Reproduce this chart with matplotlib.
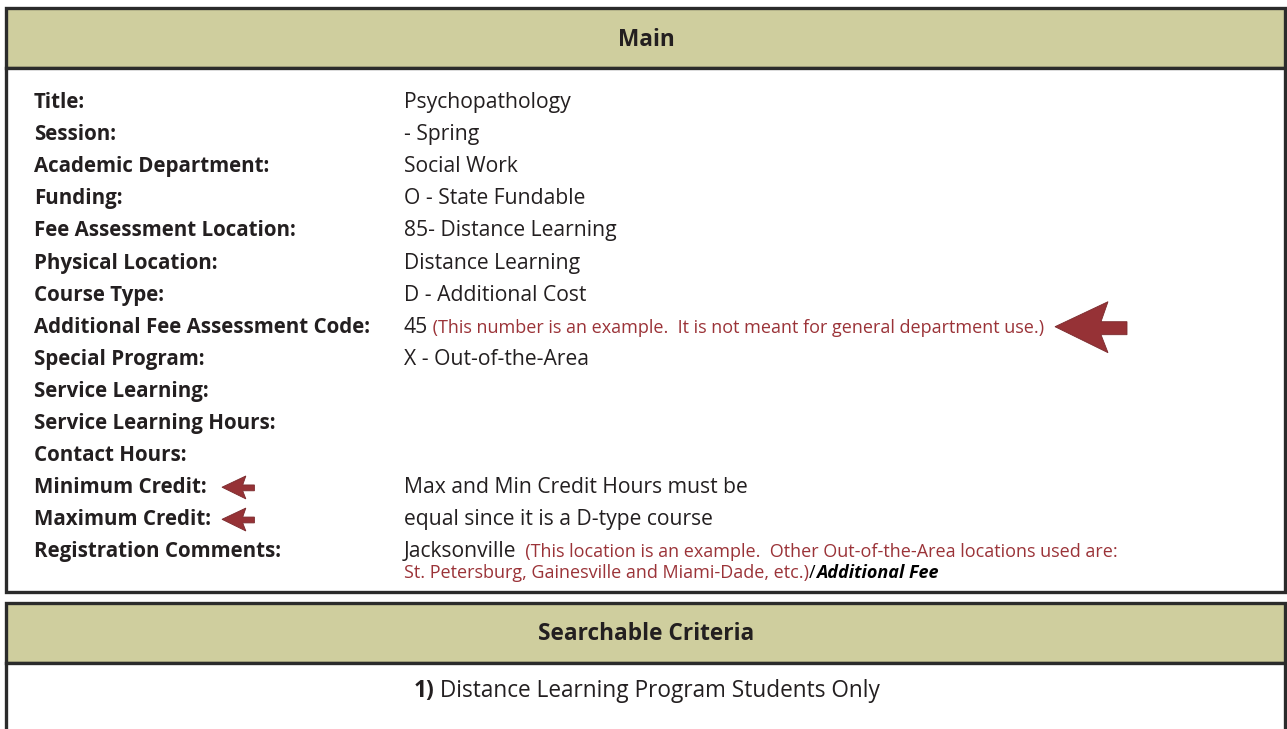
import matplotlib.pyplot as plt
from matplotlib.patches import Rectangle, Polygon

# form content
labels = ["Title:", "Session:", "Academic Department:", "Funding:",
          "Fee Assessment Location:", "Physical Location:", "Course Type:",
          "Additional Fee Assessment Code:", "Special Program:",
          "Service Learning:", "Service Learning Hours:", "Contact Hours:",
          "Minimum Credit:", "Maximum Credit:", "Registration Comments:"]
values = ["Psychopathology", "- Spring", "Social Work", "O - State Fundable",
          "85- Distance Learning", "Distance Learning", "D - Additional Cost",
          "45", "X - Out-of-the-Area", "", "", "",
          "Max and Min Credit Hours must be", "equal since it is a D-type course",
          "Jacksonville"]
fee_note = " (This number is an example.  It is not meant for general department use.)"
loc_note_1 = "  (This location is an example.  Other Out-of-the-Area locations used are:"
loc_note_2 = "St. Petersburg, Gainesville and Miami-Dade, etc.)"
loc_tail = "Additional Fee"
criteria = "Distance Learning Program Students Only"

W, H = 1287, 729
HEADER = "#CFCE9E"
EDGE = "#2b2b2b"
RED = "#9B3338"
INK = "#231f20"
FONT = "Open Sans"
LFS = 14.8   # bold labels
VFS = 15.2   # values
NFS = 13.0   # red notes
HFS = 16.3   # headers

plt.rcParams["font.family"] = FONT
fig = plt.figure(figsize=(W / 100, H / 100), dpi=100)
ax = fig.add_axes([0, 0, 1, 1])
ax.set_xlim(0, W)
ax.set_ylim(H, 0)
ax.axis("off")

# boxes
ax.add_patch(Rectangle((6, 8), 1279, 60, facecolor=HEADER, edgecolor=EDGE, lw=2.4))
ax.add_patch(Rectangle((6, 68), 1279, 524, facecolor="white", edgecolor=EDGE, lw=2.4))
ax.add_patch(Rectangle((6, 603), 1279, 60, facecolor=HEADER, edgecolor=EDGE, lw=2.4))
ax.add_patch(Rectangle((6, 663), 1279, 80, facecolor="white", edgecolor=EDGE, lw=2.4))

ax.text(646, 40, "Main", ha="center", va="center", fontsize=HFS, fontweight="bold", color=INK)
ax.text(646, 634, "Searchable Criteria", ha="center", va="center", fontsize=HFS,
        fontweight="bold", color=INK)

fig.canvas.draw()
renderer = fig.canvas.get_renderer()


def run(x, y, parts):
    # draw text pieces one after another on a line
    for s, kw in parts:
        opts = dict(va="baseline", ha="left", fontsize=VFS)
        opts.update(kw)
        t = ax.text(x, y, s, **opts)
        x += t.get_window_extent(renderer=renderer).width
    return x


row_y = [101 + i * 32.1 for i in range(len(labels))]
BASE = 7
for i, (lab, val, y) in enumerate(zip(labels, values, row_y)):
    ax.text(34, y + BASE, lab, va="baseline", ha="left", fontsize=LFS, fontweight="bold", color=INK)
    if val and i not in (7, 14):
        ax.text(404, y + BASE, val, va="baseline", ha="left", fontsize=VFS, color=INK)

run(404, row_y[7] + BASE, [(values[7], dict(color=INK)), (fee_note, dict(color=RED, fontsize=NFS))])
run(404, row_y[14] + BASE, [(values[14], dict(color=INK)), (loc_note_1, dict(color=RED, fontsize=NFS))])
run(404, row_y[14] + BASE + 21, [(loc_note_2, dict(color=RED, fontsize=NFS)),
                                 ("/", dict(color="black", fontsize=NFS)),
                                 (loc_tail, dict(color="black", fontsize=NFS, fontweight="bold",
                                                 fontstyle="italic"))])


def arrow(tip_x, y, scale):
    # left-pointing block arrow
    pts = [(0, 0), (53, -25), (46, -5), (72, -5), (72, 8), (46, 8), (53, 26)]
    ax.add_patch(Polygon([(tip_x + px * scale, y + py * scale) for px, py in pts],
                         closed=True, facecolor="#963236", edgecolor="#7a2a2d", lw=0.6))


arrow(1055, row_y[7] + 1, 1.0)
arrow(222, row_y[12] + 1, 0.45)
arrow(222, row_y[13] + 1, 0.45)

# searchable criteria line, centred
t1 = ax.text(0, 697, "1)", va="baseline", fontsize=HFS, fontweight="bold", color=INK)
t2 = ax.text(0, 697, " " + criteria, va="baseline", fontsize=HFS, color=INK)
w1 = t1.get_window_extent(renderer=renderer).width
w2 = t2.get_window_extent(renderer=renderer).width
x0 = 647 - (w1 + w2) / 2
t1.set_x(x0)
t2.set_x(x0 + w1)

fig.savefig("out.png", dpi=100)
